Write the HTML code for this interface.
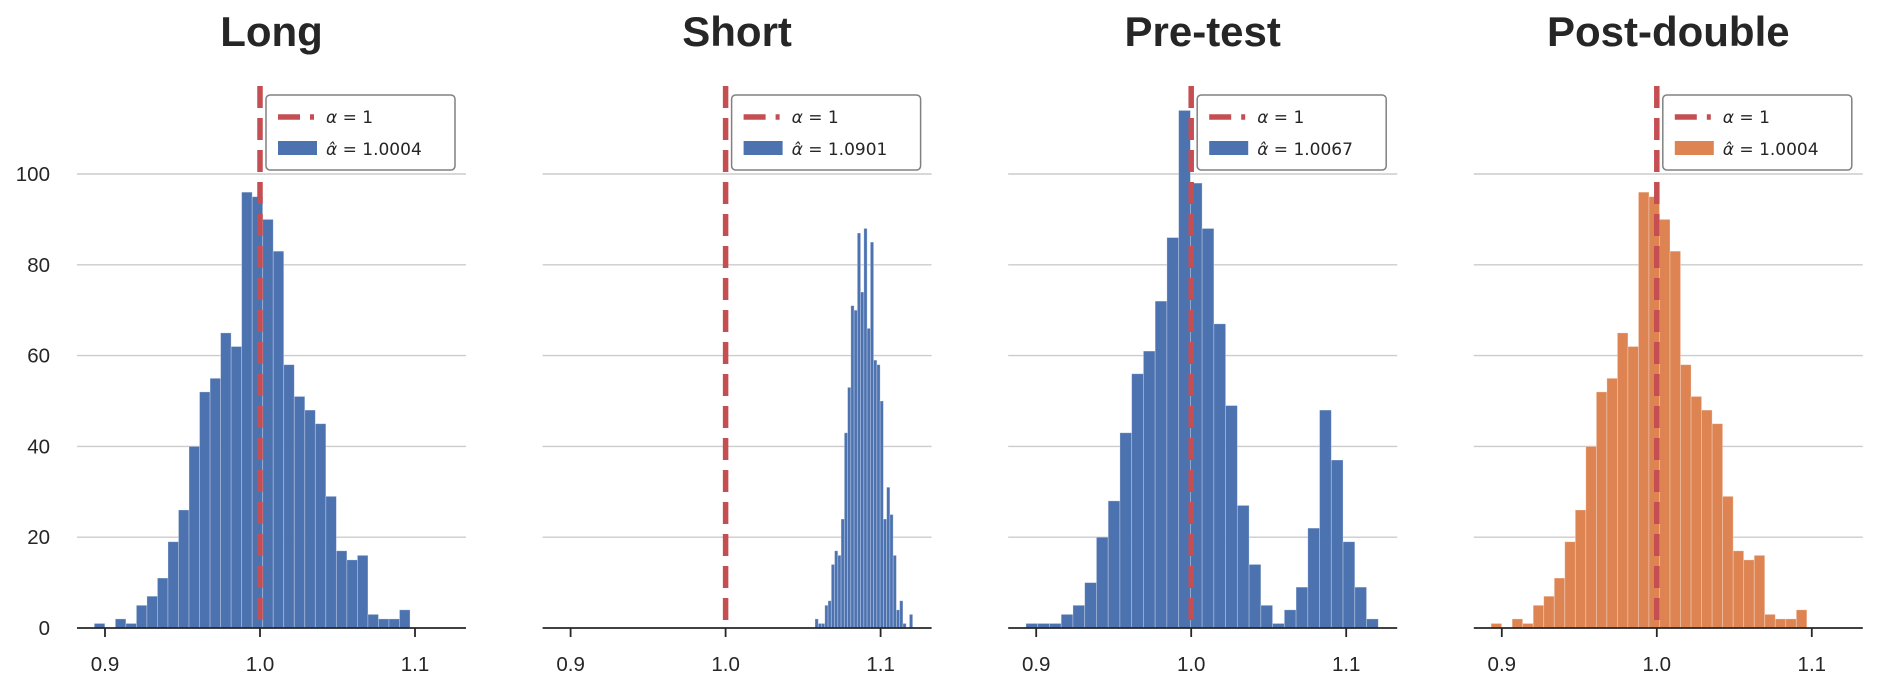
<!DOCTYPE html>
<html><head><meta charset="utf-8"><style>
html,body{margin:0;padding:0;background:#fff;}
svg{display:block;font-family:"Liberation Sans",sans-serif;}
</style></head>
<body>
<svg id="chart" width="1877" height="689" viewBox="0 0 1877 689" xmlns="http://www.w3.org/2000/svg"></svg>
<script>
const panelTitles = ["Long", "Short", "Pre-test", "Post-double"];
const estimateLabels = ["1.0004", "1.0901", "1.0067", "1.0004"];
const longCounts = [1,0,2,1,5,7,11,19,26,40,52,55,65,62,96,95,90,83,58,51,48,45,29,17,15,16,3,2,2,4];
const shortCounts = [2,1,1,5,6,14,17,16,24,43,53,71,70,87,74,88,66,85,59,58,50,24,31,25,16,4,6,1,0,3];
const preCounts = [1,1,1,3,5,10,20,28,43,56,61,72,86,114,98,88,67,49,27,14,5,1,4,9,22,48,37,19,9,2];
const postCounts = [1,0,2,1,5,7,11,19,26,40,52,55,65,62,96,95,90,83,58,51,48,45,29,17,15,16,3,2,2,4];
const binRanges = [[0.8931,1.0968],[1.0577,1.1207],[0.8934,1.1207],[0.8931,1.0968]];
const xTickValues = [0.9, 1.0, 1.1];
const xTickLabels = ["0.9", "1.0", "1.1"];
const yTickValues = [0, 20, 40, 60, 80, 100];
const yTickLabels = ["0", "20", "40", "60", "80", "100"];
const refAlpha = 1.0;

const allCounts = [longCounts, shortCounts, preCounts, postCounts];
const colors = ["#4c72b0", "#4c72b0", "#4c72b0", "#dd8452"];
const NS = "http://www.w3.org/2000/svg";
const svg = document.getElementById("chart");
const pitch = 465.6, ax0 = 77, ax1 = 466, baseY = 628, topY = 86;
const pxPerUnitX = 1550, pxPerCount = 4.54;
function mk(tag, attrs, parent){const e=document.createElementNS(NS,tag);for(const k in attrs)e.setAttribute(k,attrs[k]);(parent||svg).appendChild(e);return e;}

for (let p = 0; p < 4; p++) {
  const off = p * pitch;
  const xS = v => 260 + off + (v - 1.0) * pxPerUnitX;
  const yS = c => baseY - c * pxPerCount;
  const g = mk("g", {});
  
  
  yTickValues.forEach((v, i) => {
    if (v !== 0) {
      const l = mk("line", {x1: ax0 + off, x2: ax1 + off, y1: yS(v), y2: yS(v), stroke: "#cccccc", "stroke-width": 1.4}, g);
      
      
    }
    if (p === 0) {
      const t = mk("text", {x: 50, y: yS(v) + 7, "text-anchor": "end", "font-size": 20.5, fill: "#262626"}, g);
      
      
      t.textContent = yTickLabels[i];
    }
  });
  const counts = allCounts[p], r = binRanges[p], n = counts.length, bw = (r[1] - r[0]) / n;
  counts.forEach((c, i) => {
    if (c <= 0) return;
    const x0 = xS(r[0] + i * bw), x1 = xS(r[0] + (i + 1) * bw);
    const b = mk("rect", {x: x0, y: yS(c), width: x1 - x0, height: c * pxPerCount, fill: colors[p], stroke: "rgba(255,255,255,0.35)", "stroke-width": 0.8}, g);
    
    
  });
  const ax = mk("line", {x1: ax0 + off, x2: ax1 + off, y1: baseY, y2: baseY, stroke: "#262626", "stroke-width": 1.8}, g);
  
  
  xTickValues.forEach((v, i) => {
    const tk = mk("line", {x1: xS(v), x2: xS(v), y1: baseY, y2: baseY + 9, stroke: "#262626", "stroke-width": 1.8}, g);
    
    
    const t = mk("text", {x: xS(v), y: 671, "text-anchor": "middle", "font-size": 20.5, fill: "#262626"}, g);
    
    
    t.textContent = xTickLabels[i];
  });
  const rl = mk("line", {x1: xS(refAlpha), x2: xS(refAlpha), y1: topY, y2: baseY, stroke: "#c44e52", "stroke-width": 5.5, "stroke-dasharray": "22 10"}, g);
  
  
  const tt = mk("text", {x: (ax0 + ax1) / 2 + off, y: 46, "text-anchor": "middle", "font-size": 42, "font-weight": "bold", fill: "#262626"}, g);
  
  
  tt.textContent = panelTitles[p];
  const lg = mk("g", {}, g);
  
  
  const lx = 266 + off;
  mk("rect", {x: lx, y: 95, width: 189, height: 75, rx: 4, fill: "rgba(255,255,255,0.85)", stroke: "#808080", "stroke-width": 1.5}, lg);
  const le1 = mk("line", {x1: lx + 12, x2: lx + 48, y1: 117, y2: 117, stroke: "#c44e52", "stroke-width": 5.5, "stroke-dasharray": "22 10"}, lg);
  
  
  const lt1 = mk("text", {x: lx + 60, y: 123, "font-size": 17, "font-family": "DejaVu Sans, sans-serif", fill: "#262626"}, lg);
  
  
  lt1.innerHTML = '<tspan font-style="italic">α</tspan> = 1';
  const le2 = mk("rect", {x: lx + 12, y: 141, width: 39, height: 14, fill: colors[p]}, lg);
  
  
  const lt2 = mk("text", {x: lx + 60, y: 155, "font-size": 17, "font-family": "DejaVu Sans, sans-serif", fill: "#262626"}, lg);
  
  
  lt2.innerHTML = '<tspan font-style="italic">α̂</tspan> = ' + estimateLabels[p];
}
</script>
</body></html>
